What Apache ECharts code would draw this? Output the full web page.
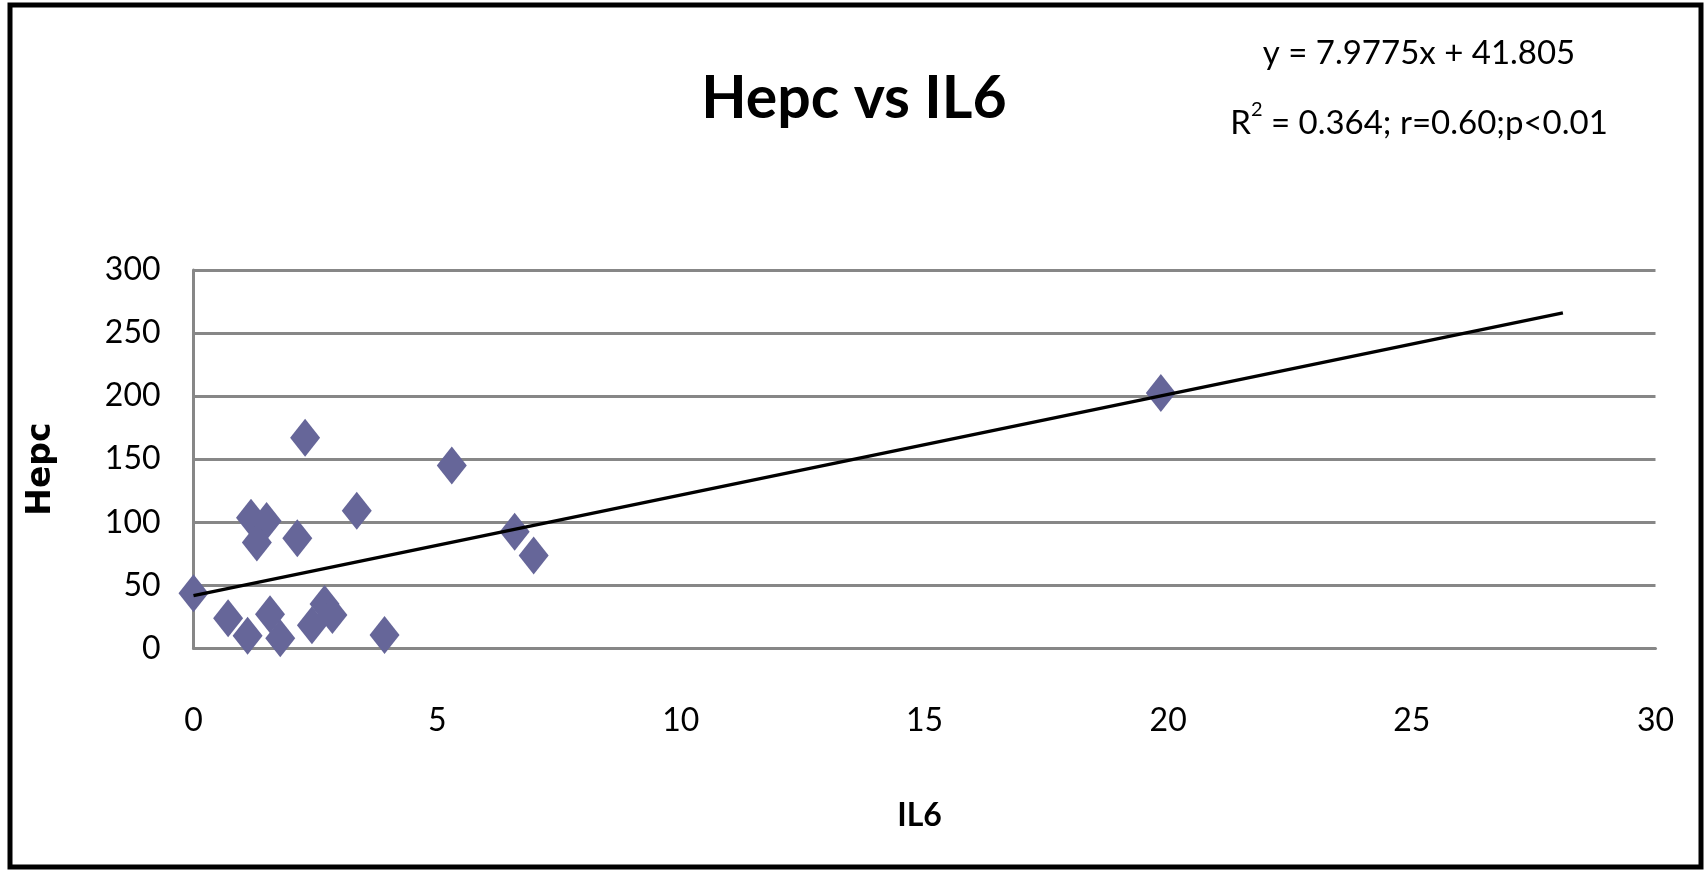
<!DOCTYPE html>
<html>
<head>
<meta charset="utf-8">
<script src="https://cdn.jsdelivr.net/npm/echarts@6/dist/echarts.min.js"></script>
<style>
html,body{margin:0;padding:0;background:#fff;}
#chart{width:1708px;height:871px;}
</style>
</head>
<body>
<div id="chart"></div>
<script>
// Data
const il6  = [0, 0.71, 1.11, 1.18, 1.50, 1.30, 1.57, 1.78, 2.13, 2.29, 2.43, 2.69, 2.85, 3.35, 3.92, 5.30, 6.59, 6.98, 19.85];
const hepc = [43.6, 23.8, 10, 103.6, 101, 84, 27, 8, 87.3, 167, 18.3, 35.2, 26.4, 109, 10.6, 145, 92.5, 73.5, 202.4];
// Linear trendline end points (y = 7.9775x + 41.805), as drawn in the picture
const trendX = [0, 28.1];
const trendY = [41.8, 266];
const xTicks = [0, 5, 10, 15, 20, 25, 30];
const yTicks = [0, 50, 100, 150, 200, 250, 300];
const titleText = 'Hepc vs IL6';
const eqLine1 = 'y = 7.9775x + 41.805';
const eqLine2a = 'R';
const eqLine2sup = '2';
const eqLine2b = ' = 0.364; r=0.60;p<0.01';

const FONT = "Lato, 'DejaVu Sans Condensed', sans-serif";

const chart = echarts.init(document.getElementById('chart'), null, {renderer: 'canvas'});

const points = il6.map((x, i) => [x, hepc[i]]);
const trend = trendX.map((x, i) => [x, trendY[i]]);

chart.setOption({
  animation: false,
  backgroundColor: '#ffffff',
  title: {
    text: titleText,
    left: 'center',
    top: 64,
    textStyle: {
      fontFamily: FONT,
      fontWeight: 'bold',
      fontSize: 59,
      color: '#000'
    }
  },
  grid: {
    left: 193.5,
    right: 52.5,
    top: 270,
    bottom: 222.7,
    containLabel: false,
    outerBoundsMode: 'none'
  },
  xAxis: {
    type: 'value',
    min: xTicks[0],
    max: xTicks[xTicks.length - 1],
    interval: xTicks[1] - xTicks[0],
    name: 'IL6',
    nameLocation: 'middle',
    nameGap: 151,
    nameTextStyle: {
      fontFamily: FONT,
      fontWeight: 'bold',
      fontSize: 32,
      color: '#000',
      padding: [0, 10, 0, 0]
    },
    axisLine: {show: true, onZero: false, lineStyle: {color: '#878787', width: 3}},
    axisTick: {show: false},
    splitLine: {show: false},
    axisLabel: {
      margin: 56,
      fontFamily: FONT,
      fontSize: 32,
      color: '#000'
    }
  },
  yAxis: {
    type: 'value',
    min: yTicks[0],
    max: yTicks[yTicks.length - 1],
    interval: yTicks[1] - yTicks[0],
    name: 'Hepc',
    nameLocation: 'middle',
    nameGap: 136,
    nameRotate: 90,
    nameTextStyle: {
      fontFamily: "'DejaVu Sans', sans-serif",
      fontWeight: 'bold',
      fontSize: 33,
      color: '#000',
      padding: [0, 20, 0, 0]
    },
    axisLine: {show: true, lineStyle: {color: '#878787', width: 3}},
    axisTick: {show: false},
    splitLine: {show: true, lineStyle: {color: '#878787', width: 3}},
    axisLabel: {
      margin: 33,
      fontFamily: FONT,
      fontSize: 32,
      color: '#000'
    }
  },
  series: [
    {
      type: 'line',
      data: trend,
      showSymbol: false,
      symbol: 'none',
      lineStyle: {color: '#000', width: 3.5},
      z: 3,
      silent: true
    },
    {
      type: 'scatter',
      data: points,
      symbol: 'diamond',
      symbolSize: [30, 38],
      itemStyle: {color: '#666699', opacity: 1},
      z: 2
    }
  ],
  graphic: [
    {
      type: 'rect',
      shape: {x: 10, y: 5, width: 1691, height: 862},
      style: {fill: null, stroke: '#000', lineWidth: 5},
      silent: true,
      z: 100
    },
    {
      type: 'text',
      x: 1419,
      y: 53,
      style: {
        text: eqLine1,
        fontFamily: FONT,
        fontSize: 33,
        fill: '#000',
        textAlign: 'center',
        textVerticalAlign: 'middle'
      }
    },
    {
      type: 'text',
      x: 1419,
      y: 120,
      style: {
        text: '{b|' + eqLine2a + '}{s|' + eqLine2sup + '}{b|' + eqLine2b + '}',
        fontFamily: FONT,
        fontSize: 33,
        fill: '#000',
        textAlign: 'center',
        textVerticalAlign: 'middle',
        rich: {
          b: {fontFamily: FONT, fontSize: 33, lineHeight: 40, verticalAlign: 'bottom'},
          s: {fontFamily: FONT, fontSize: 20, lineHeight: 40, verticalAlign: 'top'}
        }
      }
    }
  ]
});
</script>
</body>
</html>
